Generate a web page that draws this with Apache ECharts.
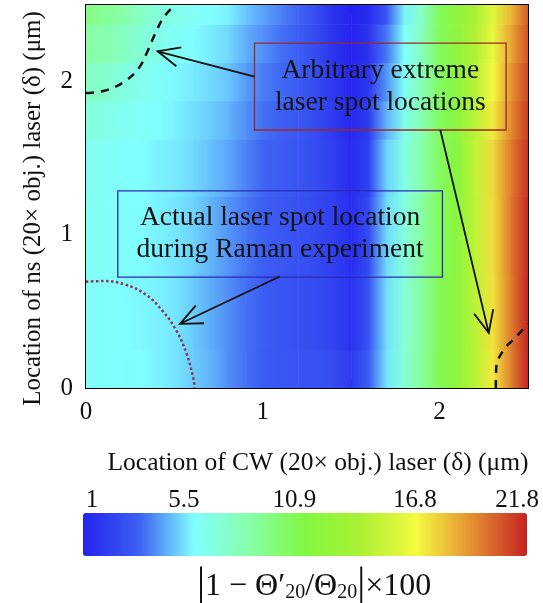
<!DOCTYPE html>
<html>
<head>
<meta charset="utf-8">
<script src="https://cdn.jsdelivr.net/npm/echarts@6/dist/echarts.min.js"></script>
<style>
  html, body { margin: 0; padding: 0; background: #fff; }
  #chart { width: 543px; height: 603px; }
</style>
</head>
<body>
<div id="chart"></div>
<script>
const FONT = '"Liberation Serif", "Times New Roman", serif';

// x positions (um) where the error was read, and the rows (um) they were read on
const xNodes = [0, 0.1, 0.2, 0.3, 0.4, 0.5, 0.6, 0.7, 0.8, 0.9, 1.0, 1.1, 1.2,
                1.3, 1.4, 1.5, 1.6, 1.7, 1.8, 1.9, 2.0, 2.1, 2.2, 2.3, 2.4, 2.5];
const yRows = [0, 0.5, 1.0, 1.5, 1.75, 2.0, 2.25, 2.5];

// |1 - theta'/theta| x 100 along each row
const row00  = [6.4, 6.3, 6.2, 6.2, 6.0, 5.8, 5.4, 5.0, 4.4, 3.9, 3.4, 3.2, 3.1, 3.0, 2.8, 2.0, 3.6, 5.8, 7.5, 9.2, 11.0, 12.3, 14.5, 17.0, 19.5, 21.8];
const row05  = [6.4, 6.3, 6.2, 6.1, 6.0, 5.8, 5.4, 4.9, 4.4, 3.9, 3.5, 3.2, 3.0, 2.8, 2.4, 1.6, 3.2, 5.7, 7.4, 9.1, 10.9, 12.2, 14.6, 17.2, 19.6, 21.8];
const row10  = [6.5, 6.4, 6.3, 6.2, 6.0, 5.8, 5.5, 5.0, 4.5, 4.0, 3.6, 3.3, 3.0, 2.7, 2.2, 1.4, 2.8, 5.6, 7.2, 9.0, 10.8, 12.0, 14.7, 17.3, 19.7, 21.7];
const row15  = [6.7, 6.5, 6.3, 6.2, 6.0, 5.9, 5.6, 5.2, 4.8, 4.2, 3.7, 3.5, 3.2, 2.8, 2.2, 1.3, 2.4, 5.5, 7.0, 8.8, 10.6, 11.9, 14.8, 17.4, 19.6, 21.5];
const row175 = [7.2, 7.0, 6.6, 6.4, 6.2, 6.0, 5.7, 5.4, 5.0, 4.4, 3.9, 3.6, 3.3, 2.8, 2.0, 1.2, 2.2, 5.0, 6.8, 8.6, 10.6, 12.0, 14.6, 17.0, 19.3, 21.2];
const row20  = [8.0, 7.7, 7.2, 6.8, 6.4, 6.1, 5.9, 5.6, 5.3, 4.6, 4.1, 3.8, 3.4, 2.8, 1.9, 1.1, 1.9, 4.5, 6.5, 8.4, 10.6, 12.1, 14.4, 16.6, 19.0, 21.0];
const row225 = [8.9, 8.6, 8.1, 7.5, 6.9, 6.5, 6.2, 5.9, 5.6, 4.9, 4.4, 3.9, 3.5, 2.8, 1.7, 1.0, 1.7, 4.0, 6.3, 8.2, 10.7, 12.2, 14.2, 16.2, 18.6, 20.7];
const row25  = [9.6, 9.3, 8.8, 8.0, 7.3, 6.8, 6.5, 6.2, 6.0, 5.3, 4.7, 4.2, 3.7, 2.8, 1.6, 1.0, 1.4, 3.3, 6.0, 8.0, 10.8, 12.3, 14.0, 15.8, 18.2, 20.5];
const rowValues = [row00, row05, row10, row15, row175, row20, row225, row25];

// colour scale
const vMin = 1, vMax = 21.8;
const barTicks = [1, 5.5, 10.9, 16.8, 21.8];
const palette = ['#2424ee', '#3d5ef3', '#80ffff', '#88ffa8', '#80f840',
                 '#aaf034', '#f4fa40', '#e49030', '#c42222'];

// axis ticks
const majorTicks = [0, 1, 2];
const minorTicks = [0.5, 1.5];

// curves drawn on the map
const extremeTop = [[0, 1.925], [0.12, 1.945], [0.23, 2.01], [0.3, 2.09], [0.345, 2.19],
                    [0.39, 2.31], [0.44, 2.42], [0.503, 2.5]];
const extremeBottom = [[2.318, 0], [2.32, 0.13], [2.36, 0.245], [2.43, 0.33], [2.5, 0.42]];
const actualSpot = [[0, 0.694], [0.1, 0.698], [0.22, 0.676], [0.337, 0.611], [0.434, 0.502],
                    [0.513, 0.371], [0.571, 0.218], [0.606, 0.07], [0.615, 0]];

// callouts: [x0, y0, x1, y1] in um
const boxes = [[0.953, 1.684, 2.376, 2.251], [0.18, 0.724, 2.016, 1.287]];
const boxLabels = ['Arbitrary extreme\nlaser spot locations',
                   'Actual laser spot location\nduring Raman experiment'];
const boxColors = ['#9a2a2a', '#2a2ab8'];
// arrows: [fromX, fromY, toX, toY]
const arrows = [[0.953, 2.033, 0.405, 2.198], [2.004, 1.684, 2.278, 0.36], [1.096, 0.728, 0.532, 0.419]];

// band segments for the map
const cells = [];
yRows.forEach(function (y, j) {
  const lo = j === 0 ? 0 : (yRows[j - 1] + y) / 2;
  const hi = j === yRows.length - 1 ? 2.5 : (yRows[j + 1] + y) / 2;
  for (let i = 0; i < xNodes.length - 1; i++) {
    cells.push([xNodes[i], xNodes[i + 1], lo, hi, rowValues[j][i], rowValues[j][i + 1]]);
  }
});

function colorOf(v) {
  return echarts.color.lerp((v - vMin) / (vMax - vMin), palette);
}

function renderCell(params, api) {
  const p0 = api.coord([api.value(0), api.value(3)]);
  const p1 = api.coord([api.value(1), api.value(2)]);
  return {
    type: 'rect',
    shape: { x: p0[0], y: p0[1], width: p1[0] - p0[0] + 0.6, height: p1[1] - p0[1] + 0.6 },
    style: {
      fill: new echarts.graphic.LinearGradient(0, 0, 1, 0, [
        { offset: 0, color: colorOf(api.value(4)) },
        { offset: 1, color: colorOf(api.value(5)) }
      ])
    }
  };
}

function renderBox(params, api) {
  const p0 = api.coord([api.value(0), api.value(3)]);
  const p1 = api.coord([api.value(2), api.value(1)]);
  const i = params.dataIndex;
  return {
    type: 'group',
    children: [
      { type: 'rect', shape: { x: p0[0], y: p0[1], width: p1[0] - p0[0], height: p1[1] - p0[1] },
        style: { fill: 'none', stroke: boxColors[i], lineWidth: 1.3 } },
      { type: 'text', x: (p0[0] + p1[0]) / 2, y: (p0[1] + p1[1]) / 2,
        style: { text: boxLabels[i], align: 'center', verticalAlign: 'middle',
                 font: '27.5px ' + FONT, lineHeight: 32, fill: '#141414' } }
    ]
  };
}

function renderArrow(params, api) {
  const a = api.coord([api.value(0), api.value(1)]);
  const b = api.coord([api.value(2), api.value(3)]);
  const ang = Math.atan2(a[1] - b[1], a[0] - b[0]);
  const L = 24, spread = 0.42;
  const w1 = [b[0] + L * Math.cos(ang + spread), b[1] + L * Math.sin(ang + spread)];
  const w2 = [b[0] + L * Math.cos(ang - spread), b[1] + L * Math.sin(ang - spread)];
  return {
    type: 'group',
    children: [
      { type: 'line', shape: { x1: a[0], y1: a[1], x2: b[0], y2: b[1] },
        style: { stroke: '#111', lineWidth: 1.8 } },
      { type: 'polyline', shape: { points: [w1, b, w2] },
        style: { stroke: '#111', lineWidth: 1.8, fill: null } }
    ]
  };
}

const tickLabel = { fontFamily: FONT, fontSize: 25, color: '#111' };
const blackLine = { color: '#000', width: 2 };

function frameAxis(dim, position, ticks, len, withLabels, extra) {
  return Object.assign({
    type: 'value', gridIndex: 0, min: 0, max: 2.5, position: position,
    axisLine: { show: true, onZero: false, lineStyle: blackLine },
    axisTick: { show: true, inside: true, length: len, customValues: ticks,
                lineStyle: { color: '#000', width: 2 } },
    axisLabel: withLabels
      ? Object.assign({ show: true, customValues: ticks, margin: dim === 'x' ? 12 : 13 }, tickLabel)
      : { show: false },
    splitLine: { show: false }
  }, extra || {});
}

const chart = echarts.init(document.getElementById('chart'));
chart.setOption({
  animation: false,
  grid: [
    { left: 86, right: 15, top: 5, height: 383 },
    { left: 92, right: 26, top: 513, height: 43 }
  ],
  xAxis: [
    frameAxis('x', 'bottom', majorTicks, 15, true, {
      name: 'Location of CW (20\u00d7 obj.) laser (\u03b4) (\u03bcm)',
      nameLocation: 'middle', nameGap: 62,
      nameTextStyle: { fontFamily: FONT, fontSize: 25.5, color: '#111', padding: [0, 0, 0, 22] }
    }),
    frameAxis('x', 'bottom', minorTicks, 9, false),
    frameAxis('x', 'top', majorTicks, 15, false),
    frameAxis('x', 'top', minorTicks, 9, false),
    {
      type: 'value', gridIndex: 1, min: vMin, max: vMax, position: 'top',
      axisLine: { show: false }, axisTick: { show: false }, splitLine: { show: false },
      axisLabel: Object.assign({ customValues: barTicks, margin: 0, fontSize: 25 }, tickLabel)
    }
  ],
  yAxis: [
    frameAxis('y', 'left', majorTicks, 15, true, {
      name: 'Location of ns (20\u00d7 obj.) laser (\u03b4) (\u03bcm)',
      nameLocation: 'middle', nameGap: 40,
      nameTextStyle: { fontFamily: FONT, fontSize: 25, color: '#111', padding: [0, 24, 0, 0] }
    }),
    frameAxis('y', 'left', minorTicks, 9, false),
    frameAxis('y', 'right', majorTicks, 15, false),
    frameAxis('y', 'right', minorTicks, 9, false),
    { type: 'value', gridIndex: 1, min: 0, max: 1, show: false }
  ],
  visualMap: {
    type: 'continuous', min: vMin, max: vMax, orient: 'horizontal',
    left: 83, top: 513, itemWidth: 43, itemHeight: 444, padding: 0,
    calculable: false, hoverLink: false, seriesIndex: 0, dimension: 4,
    inRange: { color: palette }
  },
  graphic: [{
    type: 'text', left: 197, top: 563,
    style: {
      text: '{b||}{m|1 \u2212 \u0398\u2032}{s|20}{m|/\u0398}{s|20}{b||}{m|\u00d7100}',
      rich: {
        b: { fontFamily: FONT, fontSize: 40, lineHeight: 40, fill: '#111', verticalAlign: 'bottom' },
        m: { fontFamily: FONT, fontSize: 32, lineHeight: 40, fill: '#111', verticalAlign: 'bottom' },
        s: { fontFamily: FONT, fontSize: 20, lineHeight: 20, fill: '#111', verticalAlign: 'bottom' }
      }
    }
  }],
  series: [
    {
      type: 'custom', name: 'map', xAxisIndex: 0, yAxisIndex: 0, clip: true, z: 1,
      renderItem: renderCell, encode: { x: [0, 1], y: [2, 3] }, data: cells, silent: true
    },
    {
      type: 'line', data: extremeTop, smooth: 0.4, showSymbol: false, z: 3,
      lineStyle: { color: '#111', width: 2.5, type: [8, 7] }
    },
    {
      type: 'line', data: extremeBottom, smooth: 0.4, showSymbol: false, z: 3,
      lineStyle: { color: '#111', width: 2.5, type: [8, 7] }
    },
    {
      type: 'line', data: actualSpot, smooth: 0.4, showSymbol: false, z: 3,
      lineStyle: { color: '#8e3650', width: 2.5, type: [2.5, 2.5] }
    },
    {
      type: 'custom', renderItem: renderBox, encode: { x: [0, 2], y: [1, 3] },
      data: boxes, z: 4, silent: true
    },
    {
      type: 'custom', renderItem: renderArrow, encode: { x: [0, 2], y: [1, 3] },
      data: arrows, z: 5, silent: true
    }
  ]
});
</script>
</body>
</html>
